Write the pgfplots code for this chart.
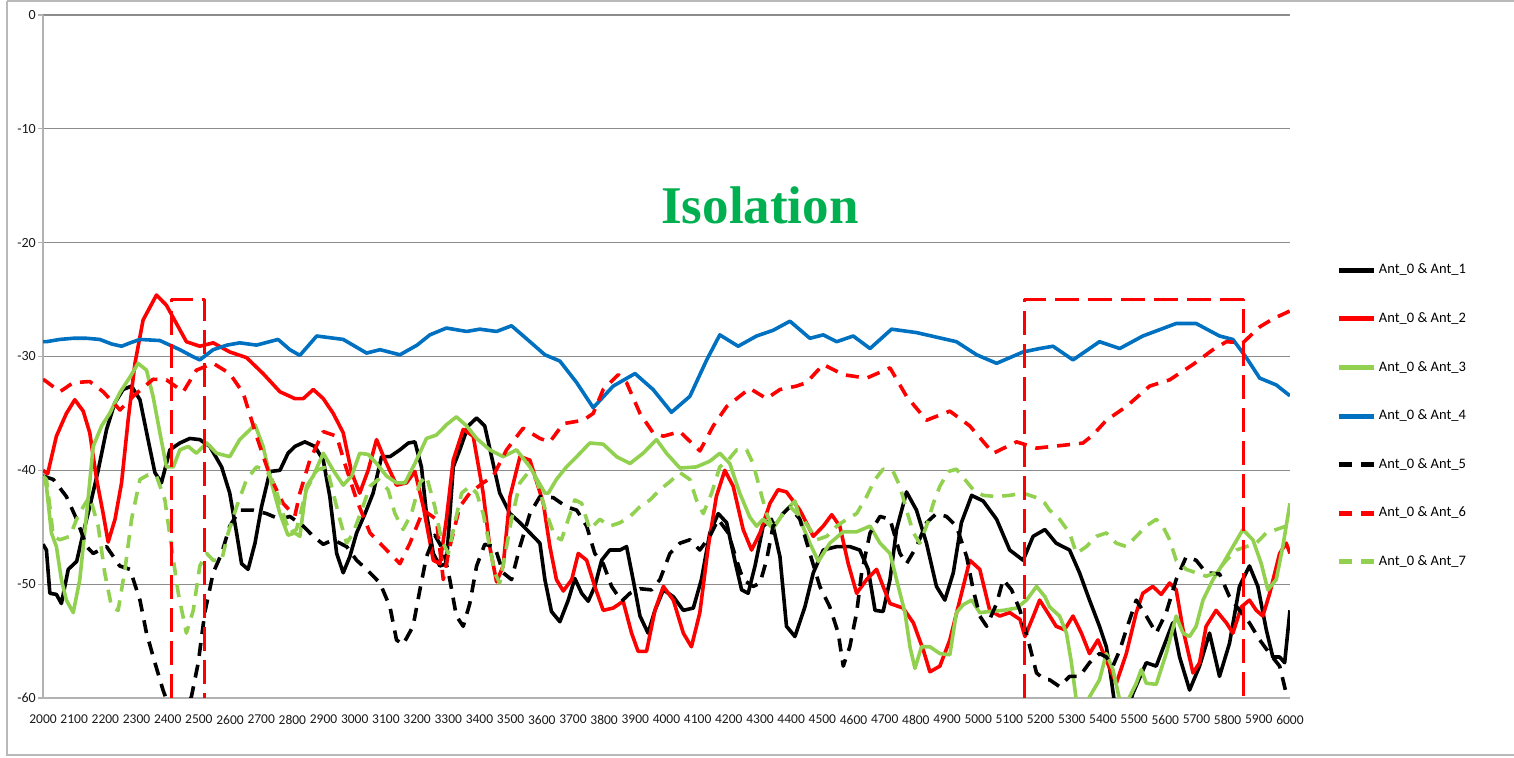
\documentclass[border=0pt]{standalone}
\usepackage{fontspec}
\setmainfont{Carlito}
\newfontfamily\titlefont{Liberation Serif}
\usepackage{pgfplots}
\pgfplotsset{compat=1.18}
\definecolor{exred}{HTML}{FF0000}
\definecolor{exgreen}{HTML}{92D050}
\definecolor{exblue}{HTML}{0070C0}
\definecolor{titlegreen}{HTML}{00B050}
\definecolor{gridgray}{RGB}{140,140,140}
\begin{document}
\begin{tikzpicture}[x=1pt,y=1pt]
\path[use as bounding box] (0,0) rectangle (1514,757);
\draw[gray!55, line width=1.2pt] (7,756) -- (1514,756);
\draw[gray!55, line width=1.2pt] (7,756) -- (7,2) -- (1514,2);
\begin{axis}[
  at={(43pt,59pt)}, anchor=south west, scale only axis,
  width=1247pt, height=683pt,
  xmin=2000, xmax=6000, ymin=-60, ymax=0,
  xtick={2000,2100,...,6000}, ytick={-60,-50,...,0},
  ymajorgrids, grid style={line width=1.3pt, color=gridgray},
  axis lines*=left, axis line style={-, line width=1.2pt, color=gray!60},
  xtick style={draw=none},
  ytick style={line width=1.2pt, color=gray!60},
  tick align=outside, major tick length=5pt,
  /pgf/number format/1000 sep={}, /pgf/number format/assume math mode=true,
  tick label style={text=black!90},
  xticklabel style={font=\fontsize{13.5}{16}\selectfont, inner sep=0pt, anchor=north, yshift=-12pt},
  yticklabel style={font=\fontsize{14}{16}\selectfont, inner sep=0pt, anchor=east, xshift=-2pt},
  no markers,
  every axis plot/.append style={line width=3.6pt, line join=round},
  legend cell align=left,
  legend style={at={(1.0375,0.636)}, anchor=north west, draw=none, fill=none,
    font=\fontsize{14.5}{16}\selectfont, inner sep=0pt, row sep=35.6pt, column sep=2pt,
    nodes={inner sep=0pt, text height=10pt, text depth=3pt}},
  legend image code/.code={\draw[line width=5pt] (0pt,0pt) -- (35pt,0pt);},
]
% Ant_0 & Ant_1
\addplot[black] coordinates {(2000,-46.5) (2011,-47.0) (2022,-50.8) (2043,-50.9) (2059,-51.7) (2081,-48.7) (2108,-48.0) (2129,-45.5) (2150,-43.2) (2177,-40.0) (2204,-36.4) (2230,-34.1) (2257,-32.9) (2284,-32.6) (2311,-33.8) (2337,-37.3) (2359,-40.2) (2380,-41.1) (2407,-38.2) (2439,-37.6) (2471,-37.2) (2503,-37.3) (2535,-37.9) (2573,-39.7) (2599,-42.0) (2621,-45.5) (2637,-48.2) (2658,-48.7) (2680,-46.4) (2701,-43.2) (2728,-40.1) (2760,-40.0) (2786,-38.5) (2808,-37.9) (2840,-37.5) (2872,-37.9) (2899,-39.1) (2920,-42.3) (2942,-47.3) (2963,-49.0) (2984,-47.6) (3006,-45.5) (3033,-43.8) (3059,-42.0) (3086,-38.8) (3113,-38.8) (3145,-38.2) (3172,-37.6) (3193,-37.5) (3214,-39.7) (3230,-43.8) (3252,-47.3) (3273,-48.4) (3294,-48.2) (3316,-39.7) (3337,-38.2) (3364,-36.1) (3391,-35.4) (3417,-36.1) (3439,-38.8) (3465,-42.0) (3498,-43.8) (3530,-44.6) (3562,-45.5) (3594,-46.4) (3610,-49.6) (3631,-52.4) (3658,-53.3) (3685,-51.4) (3706,-49.5) (3728,-50.8) (3749,-51.5) (3770,-50.2) (3792,-47.9) (3818,-47.0) (3851,-47.0) (3872,-46.7) (3893,-49.6) (3915,-52.8) (3941,-54.3) (3963,-52.3) (3990,-50.5) (4022,-51.1) (4054,-52.3) (4086,-52.1) (4112,-49.6) (4139,-45.5) (4166,-43.8) (4193,-44.6) (4219,-47.9) (4241,-50.5) (4262,-50.8) (4284,-48.4) (4310,-44.9) (4337,-44.3) (4364,-47.6) (4385,-53.7) (4412,-54.6) (4444,-52.0) (4471,-49.0) (4503,-47.0) (4546,-46.7) (4588,-46.7) (4620,-47.0) (4647,-48.7) (4669,-52.3) (4695,-52.4) (4717,-49.6) (4738,-45.2) (4770,-41.9) (4802,-43.5) (4834,-46.4) (4866,-50.2) (4893,-51.4) (4920,-49.0) (4946,-44.6) (4979,-42.2) (5016,-42.7) (5059,-44.3) (5101,-47.0) (5144,-47.9) (5176,-45.8) (5214,-45.2) (5250,-46.4) (5293,-47.0) (5325,-49.0) (5357,-51.4) (5389,-53.7) (5411,-55.5) (5427,-58.4) (5440,-61.0) (5470,-62.0) (5496,-59.6) (5539,-56.9) (5571,-57.2) (5603,-54.9) (5624,-53.4) (5646,-56.4) (5678,-59.3) (5710,-57.2) (5742,-54.3) (5774,-58.1) (5806,-55.2) (5838,-50.2) (5870,-48.4) (5897,-50.2) (5924,-54.0) (5945,-56.4) (5967,-56.4) (5983,-56.9) (6000,-52.3)};
\addlegendentry{Ant\_0 \& Ant\_1}
% Ant_0 & Ant_2
\addplot[exred] coordinates {(2000,-40.0) (2015,-40.3) (2043,-37.0) (2075,-35.0) (2102,-33.8) (2129,-34.8) (2150,-36.7) (2172,-40.8) (2193,-43.8) (2209,-46.3) (2231,-44.3) (2252,-41.1) (2273,-35.6) (2295,-30.6) (2321,-26.8) (2364,-24.6) (2396,-25.5) (2428,-27.1) (2460,-28.7) (2503,-29.1) (2546,-28.8) (2599,-29.6) (2653,-30.1) (2706,-31.5) (2760,-33.1) (2808,-33.7) (2835,-33.7) (2867,-32.9) (2899,-33.7) (2931,-35.0) (2963,-36.7) (2990,-40.2) (3016,-42.0) (3043,-40.0) (3070,-37.3) (3097,-39.1) (3134,-41.3) (3166,-41.1) (3193,-40.1) (3220,-43.2) (3252,-47.9) (3273,-48.2) (3294,-44.3) (3316,-39.1) (3348,-36.4) (3380,-37.0) (3412,-42.0) (3433,-46.7) (3455,-49.8) (3476,-48.4) (3498,-42.3) (3530,-38.8) (3562,-39.1) (3588,-41.4) (3605,-42.9) (3626,-46.7) (3647,-49.6) (3669,-50.6) (3696,-49.6) (3717,-47.3) (3744,-47.9) (3770,-50.2) (3797,-52.3) (3829,-52.1) (3861,-51.5) (3888,-54.3) (3909,-55.9) (3936,-55.9) (3963,-52.3) (3990,-50.2) (4022,-51.4) (4054,-54.3) (4080,-55.5) (4107,-52.5) (4134,-46.7) (4160,-42.3) (4187,-40.0) (4214,-41.4) (4246,-45.2) (4273,-47.0) (4300,-45.5) (4332,-42.9) (4358,-41.7) (4385,-41.9) (4412,-42.9) (4428,-43.5) (4471,-45.8) (4503,-44.9) (4530,-43.9) (4556,-44.9) (4583,-48.2) (4610,-50.8) (4642,-49.6) (4674,-48.7) (4695,-50.2) (4717,-51.7) (4759,-52.1) (4792,-53.4) (4824,-55.8) (4845,-57.7) (4877,-57.2) (4909,-54.9) (4941,-51.4) (4973,-47.9) (5005,-48.7) (5037,-52.3) (5069,-52.8) (5101,-52.5) (5134,-53.1) (5150,-54.6) (5177,-52.8) (5197,-51.4) (5218,-52.3) (5250,-53.7) (5277,-54.0) (5304,-52.8) (5331,-54.3) (5357,-56.1) (5384,-54.9) (5411,-56.7) (5443,-58.7) (5475,-56.1) (5507,-52.5) (5528,-50.8) (5560,-50.2) (5587,-50.9) (5614,-49.9) (5635,-50.5) (5657,-54.0) (5689,-57.8) (5710,-56.9) (5731,-53.7) (5763,-52.3) (5796,-53.4) (5817,-54.3) (5844,-52.0) (5870,-51.4) (5892,-52.3) (5913,-52.8) (5935,-50.8) (5967,-47.3) (5988,-46.4) (6000,-47.3)};
\addlegendentry{Ant\_0 \& Ant\_2}
% Ant_0 & Ant_3
\addplot[exgreen] coordinates {(2000,-40.5) (2011,-41.4) (2027,-45.5) (2043,-46.7) (2059,-49.6) (2075,-51.4) (2097,-52.5) (2118,-49.6) (2140,-43.8) (2161,-37.9) (2188,-36.1) (2214,-35.0) (2246,-33.2) (2279,-31.8) (2305,-30.6) (2332,-31.2) (2353,-33.5) (2375,-36.7) (2396,-39.7) (2418,-39.7) (2439,-38.2) (2466,-37.9) (2492,-38.5) (2525,-37.6) (2557,-38.5) (2599,-38.8) (2631,-37.3) (2680,-36.0) (2706,-37.9) (2733,-41.1) (2760,-43.8) (2786,-45.7) (2808,-45.5) (2824,-45.8) (2845,-41.4) (2867,-40.5) (2899,-38.5) (2931,-40.0) (2963,-41.3) (2990,-40.5) (3016,-38.5) (3043,-38.6) (3070,-39.4) (3102,-40.5) (3134,-41.1) (3161,-41.1) (3193,-39.4) (3230,-37.2) (3262,-36.9) (3294,-36.0) (3326,-35.3) (3359,-36.1) (3391,-37.2) (3433,-38.2) (3476,-38.8) (3519,-38.2) (3562,-39.7) (3610,-42.0) (3621,-42.0) (3647,-40.8) (3679,-39.7) (3712,-38.8) (3754,-37.6) (3797,-37.7) (3840,-38.8) (3883,-39.4) (3925,-38.5) (3968,-37.3) (4000,-38.5) (4043,-39.8) (4096,-39.7) (4139,-39.2) (4171,-38.5) (4203,-39.4) (4235,-42.0) (4267,-44.1) (4289,-44.9) (4310,-44.3) (4342,-45.1) (4374,-43.8) (4412,-42.7) (4428,-44.3) (4460,-46.4) (4487,-48.0) (4524,-46.4) (4567,-45.4) (4610,-45.4) (4653,-44.9) (4685,-46.4) (4717,-47.3) (4738,-49.6) (4765,-52.5) (4781,-55.5) (4797,-57.4) (4818,-55.5) (4845,-55.5) (4877,-56.1) (4909,-56.2) (4930,-52.5) (4952,-51.8) (4979,-51.4) (5005,-52.5) (5037,-52.4) (5080,-52.3) (5123,-52.1) (5155,-51.4) (5187,-50.2) (5214,-51.1) (5229,-52.0) (5261,-52.8) (5283,-54.3) (5299,-56.9) (5315,-60.3) (5340,-61.0) (5357,-59.9) (5389,-58.4) (5411,-56.1) (5432,-57.5) (5454,-60.2) (5475,-60.5) (5507,-58.7) (5523,-57.5) (5539,-58.7) (5571,-58.8) (5603,-56.1) (5635,-52.8) (5657,-54.3) (5678,-54.6) (5699,-53.7) (5721,-51.4) (5753,-49.6) (5785,-48.2) (5817,-46.7) (5849,-45.2) (5881,-46.1) (5908,-48.2) (5929,-50.5) (5956,-49.6) (5977,-46.7) (6000,-42.9)};
\addlegendentry{Ant\_0 \& Ant\_3}
% Ant_0 & Ant_4
\addplot[exblue] coordinates {(2000,-28.7) (2011,-28.7) (2054,-28.5) (2097,-28.4) (2140,-28.4) (2182,-28.5) (2220,-28.9) (2252,-29.1) (2280,-28.8) (2311,-28.5) (2375,-28.6) (2439,-29.4) (2480,-30.0) (2503,-30.3) (2546,-29.4) (2590,-29.0) (2631,-28.8) (2685,-29.0) (2754,-28.5) (2792,-29.4) (2824,-29.9) (2878,-28.2) (2963,-28.5) (3038,-29.7) (3081,-29.4) (3145,-29.85) (3200,-29.0) (3241,-28.1) (3294,-27.5) (3359,-27.8) (3401,-27.6) (3455,-27.8) (3503,-27.3) (3562,-28.7) (3610,-29.85) (3658,-30.4) (3712,-32.3) (3765,-34.5) (3829,-32.6) (3899,-31.5) (3957,-32.9) (4016,-34.9) (4075,-33.5) (4129,-30.3) (4171,-28.1) (4230,-29.1) (4289,-28.2) (4342,-27.7) (4396,-26.9) (4460,-28.4) (4503,-28.1) (4546,-28.7) (4599,-28.2) (4653,-29.3) (4722,-27.6) (4802,-27.9) (4866,-28.3) (4930,-28.7) (4995,-29.85) (5059,-30.6) (5144,-29.6) (5197,-29.3) (5240,-29.1) (5304,-30.3) (5389,-28.7) (5454,-29.3) (5528,-28.2) (5635,-27.1) (5699,-27.1) (5774,-28.2) (5817,-28.5) (5860,-30.1) (5903,-31.9) (5956,-32.5) (6000,-33.45)};
\addlegendentry{Ant\_0 \& Ant\_4}
% Ant_0 & Ant_5
\addplot[black, dash pattern=on 13pt off 9pt] coordinates {(2000,-40.5) (2033,-40.8) (2075,-42.3) (2108,-44.3) (2140,-46.7) (2161,-47.3) (2204,-46.7) (2246,-48.4) (2279,-48.7) (2311,-51.4) (2332,-54.3) (2359,-56.9) (2385,-59.3) (2401,-60.5) (2440,-62.0) (2476,-59.9) (2498,-56.9) (2519,-52.5) (2546,-49.0) (2573,-47.3) (2599,-44.9) (2631,-43.5) (2674,-43.5) (2717,-43.8) (2760,-44.3) (2792,-44.05) (2835,-44.9) (2867,-45.8) (2899,-46.5) (2931,-46.1) (2974,-46.7) (3006,-47.9) (3038,-48.7) (3081,-49.9) (3113,-52.0) (3134,-54.9) (3155,-55.3) (3187,-53.7) (3209,-50.5) (3230,-47.6) (3257,-45.7) (3284,-47.0) (3305,-49.6) (3326,-52.8) (3348,-53.7) (3369,-51.7) (3391,-48.4) (3417,-46.5) (3449,-46.7) (3476,-49.0) (3503,-49.6) (3530,-46.7) (3562,-43.8) (3594,-42.3) (3637,-42.4) (3679,-43.2) (3712,-43.5) (3744,-44.9) (3770,-47.3) (3797,-48.2) (3824,-50.2) (3856,-51.5) (3883,-50.8) (3915,-50.4) (3952,-50.5) (3979,-49.6) (4011,-47.3) (4043,-46.4) (4075,-46.1) (4107,-47.0) (4139,-45.8) (4166,-44.3) (4198,-45.5) (4225,-47.9) (4246,-49.6) (4278,-50.2) (4300,-49.9) (4321,-47.9) (4342,-44.9) (4374,-43.8) (4396,-43.2) (4428,-44.3) (4460,-47.3) (4492,-50.2) (4524,-52.0) (4551,-54.3) (4567,-57.2) (4588,-55.5) (4610,-52.5) (4626,-49.0) (4653,-45.5) (4685,-44.05) (4717,-44.3) (4749,-47.3) (4770,-48.2) (4802,-46.7) (4834,-44.6) (4866,-43.8) (4898,-44.05) (4930,-44.9) (4963,-47.6) (4984,-50.5) (5005,-52.8) (5027,-53.7) (5059,-51.7) (5080,-49.6) (5107,-50.5) (5134,-52.3) (5160,-54.9) (5187,-57.8) (5214,-58.4) (5229,-58.4) (5261,-59.0) (5293,-58.1) (5325,-58.1) (5357,-56.9) (5389,-56.1) (5411,-56.4) (5432,-57.2) (5454,-55.8) (5475,-54.0) (5507,-51.4) (5539,-52.8) (5571,-54.3) (5603,-52.5) (5635,-49.6) (5667,-47.6) (5699,-47.9) (5731,-49.0) (5774,-49.1) (5806,-51.1) (5838,-52.3) (5870,-53.4) (5903,-54.9) (5935,-56.1) (5967,-57.2) (5988,-59.6) (6000,-59.5)};
\addlegendentry{Ant\_0 \& Ant\_5}
% Ant_0 & Ant_6
\addplot[exred, dash pattern=on 13pt off 9pt] coordinates {(2000,-32.0) (2011,-32.2) (2054,-33.1) (2097,-32.3) (2150,-32.2) (2193,-33.1) (2247,-34.7) (2289,-33.5) (2353,-32.0) (2396,-32.05) (2450,-33.1) (2492,-31.2) (2546,-30.6) (2599,-31.5) (2642,-33.2) (2685,-37.0) (2728,-40.5) (2770,-42.9) (2808,-44.0) (2824,-42.0) (2856,-39.1) (2899,-36.6) (2942,-37.0) (2968,-39.4) (3006,-42.6) (3049,-45.5) (3102,-47.0) (3145,-48.2) (3177,-46.4) (3220,-43.5) (3262,-44.3) (3284,-49.6) (3305,-46.7) (3337,-43.2) (3369,-42.0) (3412,-41.1) (3444,-40.5) (3487,-38.2) (3540,-36.3) (3594,-37.2) (3626,-37.5) (3669,-35.9) (3733,-35.6) (3765,-35.0) (3797,-32.9) (3845,-31.6) (3872,-32.3) (3915,-35.0) (3957,-36.7) (3990,-37.0) (4043,-36.6) (4107,-38.3) (4150,-36.1) (4193,-34.4) (4267,-32.8) (4321,-33.7) (4364,-32.9) (4417,-32.6) (4449,-32.3) (4503,-30.7) (4567,-31.6) (4642,-31.9) (4717,-31.0) (4770,-33.5) (4834,-35.6) (4909,-34.8) (4973,-36.1) (5048,-38.5) (5123,-37.5) (5187,-38.05) (5272,-37.8) (5336,-37.6) (5368,-36.9) (5411,-35.6) (5475,-34.4) (5550,-32.6) (5614,-32.05) (5689,-30.7) (5753,-29.4) (5796,-28.7) (5849,-28.8) (5903,-27.4) (5945,-26.7) (6000,-26.0)};
\addlegendentry{Ant\_0 \& Ant\_6}
% Ant_0 & Ant_7
\addplot[exgreen, dash pattern=on 13pt off 9pt] coordinates {(2000,-40.5) (2011,-40.8) (2022,-43.2) (2033,-45.8) (2054,-46.1) (2086,-45.8) (2108,-44.3) (2129,-43.2) (2150,-42.3) (2177,-44.9) (2198,-49.0) (2220,-52.0) (2241,-52.3) (2263,-48.7) (2284,-44.3) (2311,-40.8) (2337,-40.4) (2364,-40.5) (2391,-42.6) (2412,-46.7) (2434,-50.8) (2460,-54.3) (2482,-52.3) (2503,-48.4) (2525,-47.3) (2546,-47.9) (2573,-47.9) (2594,-45.5) (2621,-43.2) (2653,-40.8) (2685,-39.7) (2717,-40.0) (2744,-41.4) (2770,-43.8) (2792,-45.5) (2813,-45.2) (2845,-41.7) (2878,-40.0) (2910,-39.7) (2931,-42.0) (2952,-44.3) (2974,-46.4) (2995,-45.5) (3022,-43.5) (3049,-41.4) (3075,-40.8) (3107,-41.7) (3129,-43.8) (3155,-45.2) (3182,-43.8) (3209,-41.1) (3230,-40.5) (3257,-43.2) (3278,-46.1) (3300,-47.3) (3321,-44.6) (3343,-42.0) (3369,-41.4) (3391,-42.0) (3412,-43.8) (3433,-46.7) (3449,-49.0) (3465,-49.9) (3481,-47.6) (3503,-44.3) (3530,-41.1) (3556,-40.2) (3583,-40.8) (3615,-43.8) (3642,-45.8) (3663,-46.1) (3685,-44.3) (3706,-42.6) (3728,-42.9) (3754,-45.2) (3786,-44.3) (3818,-44.9) (3851,-44.6) (3883,-44.05) (3915,-43.2) (3947,-42.6) (3979,-41.7) (4011,-41.0) (4043,-40.2) (4075,-40.8) (4096,-42.6) (4118,-43.8) (4145,-42.0) (4171,-39.7) (4198,-39.1) (4225,-38.2) (4257,-38.2) (4278,-39.4) (4300,-41.7) (4321,-43.8) (4342,-45.1) (4374,-43.8) (4396,-43.2) (4439,-44.3) (4482,-46.1) (4514,-45.8) (4546,-44.9) (4578,-44.3) (4610,-43.8) (4642,-42.3) (4669,-40.8) (4695,-39.9) (4727,-40.1) (4749,-41.4) (4770,-43.5) (4792,-45.5) (4813,-46.4) (4834,-44.9) (4856,-42.9) (4877,-41.4) (4904,-40.1) (4930,-39.9) (4957,-40.8) (4984,-41.7) (5016,-42.2) (5059,-42.3) (5101,-42.2) (5144,-42.0) (5187,-42.4) (5214,-42.9) (5229,-43.5) (5261,-44.3) (5293,-45.5) (5315,-47.3) (5347,-46.7) (5379,-45.8) (5411,-45.5) (5443,-46.4) (5475,-46.7) (5507,-45.8) (5539,-44.9) (5571,-44.3) (5592,-44.9) (5614,-46.1) (5635,-47.9) (5667,-48.7) (5699,-49.0) (5731,-49.3) (5763,-49.0) (5796,-47.9) (5828,-47.0) (5860,-46.7) (5892,-46.4) (5924,-45.5) (5956,-45.2) (5988,-44.9) (6000,-45.1)};
\addlegendentry{Ant\_0 \& Ant\_7}
% highlighted bands
\addplot[forget plot, exred, line width=3pt, dash pattern=on 24pt off 9pt] coordinates {(2413,-60) (2413,-25) (2519,-25) (2519,-60)};
\addplot[forget plot, exred, line width=3pt, dash pattern=on 24pt off 9pt] coordinates {(5149,-60) (5149,-25) (5852,-25) (5852,-60)};
\end{axis}
\node[font=\titlefont\bfseries\fontsize{53}{60}\selectfont, text=titlegreen] at (760,552) {Isolation};
\end{tikzpicture}
\end{document}
